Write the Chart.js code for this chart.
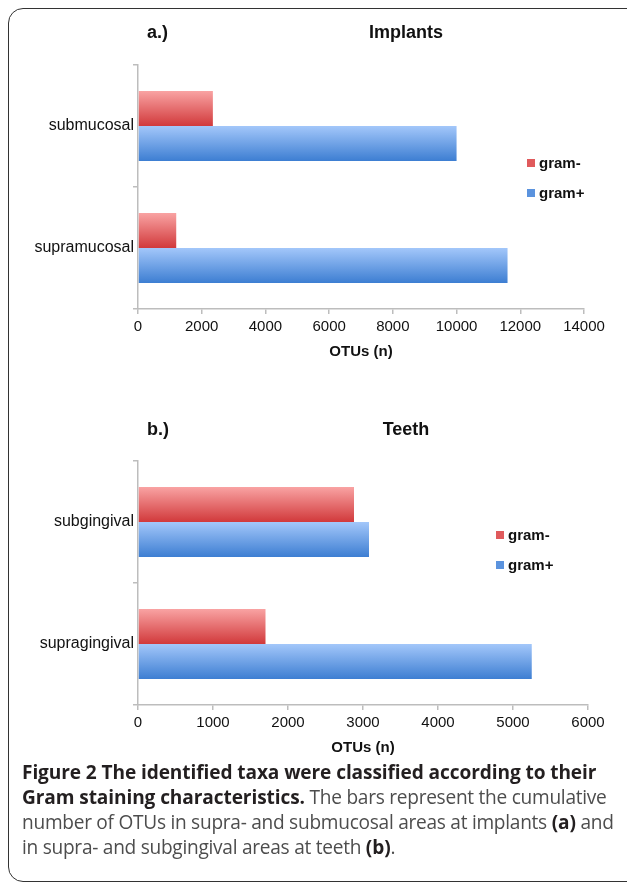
<!DOCTYPE html>
<html>
<head>
<meta charset="utf-8">
<script src="https://cdn.jsdelivr.net/npm/chart.js@4/dist/chart.umd.min.js"></script>
<style>
body { margin: 0; width: 627px; height: 884px; background: #fff; overflow: hidden; position: relative; }
#frame { position: absolute; left: 8px; top: 8px; width: 660px; height: 874px; border: 1.5px solid #333; border-radius: 15px; box-sizing: border-box; }
.wrap { position: absolute; left: 0; width: 627px; }
#wrapA { top: 0; height: 370px; }
#wrapB { top: 380px; height: 380px; }
#caption { position: absolute; left: 22px; top: 760px; font-family: 'Open Sans', sans-serif; font-size: 19.1px; line-height: 25px; color: #4d4d4d; white-space: nowrap; letter-spacing: -0.27px; }
#caption b { color: #231f20; letter-spacing: -0.1px; }
</style>
</head>
<body>
<div id="frame"></div>
<div class="wrap" id="wrapA"><canvas id="chartA"></canvas></div>
<div class="wrap" id="wrapB"><canvas id="chartB"></canvas></div>
<div id="caption">
<b>Figure 2 The identified taxa were classified according to their</b><br>
<b>Gram staining characteristics.</b> The bars represent the cumulative<br>
number of OTUs in supra- and submucosal areas at implants <b>(a)</b> and<br>
in supra- and subgingival areas at teeth <b>(b)</b>.
</div>
<script>
// datos
var seriesNames = ['gram-', 'gram+'];

var sitiosImplantes = ['submucosal', 'supramucosal'];
var gramNegImplantes = [2350, 1200];
var gramPosImplantes = [10000, 11600];
var maxImplantes = 14000;
var pasoImplantes = 2000;

var sitiosDientes = ['subgingival', 'supragingival'];
var gramNegDientes = [2880, 1700];
var gramPosDientes = [3080, 5250];
var maxDientes = 6000;
var pasoDientes = 1000;

var colores = [
    { top: '#f9a3a3', bottom: '#d1393b', legend: '#e05a5c' },
    { top: '#a3c7fa', bottom: '#3d7ed2', legend: '#5b93de' }
];

Chart.defaults.font.family = "'Liberation Sans', Arial, sans-serif";
Chart.defaults.font.size = 15;
Chart.defaults.color = '#111';

var extras = {
    id: 'extras',
    beforeDatasetsDraw: function (chart) {
        var ctx = chart.ctx;
        chart.data.datasets.forEach(function (ds, i) {
            chart.getDatasetMeta(i).data.forEach(function (bar) {
                var y0 = bar.y - bar.height / 2;
                var y1 = bar.y + bar.height / 2;
                var g = ctx.createLinearGradient(0, y0, 0, y1);
                g.addColorStop(0, colores[i].top);
                g.addColorStop(1, colores[i].bottom);
                bar.options.backgroundColor = g;
            });
        });
    },
    afterDraw: function (chart) {
        var o = chart.options.plugins.extras;
        var ctx = chart.ctx;
        ctx.save();
        ctx.fillStyle = '#111';
        ctx.textBaseline = 'middle';
        ctx.font = "bold 18px 'Liberation Sans', Arial, sans-serif";
        ctx.textAlign = 'left';
        ctx.fillText(o.tag, 147, o.titleY);
        ctx.textAlign = 'center';
        ctx.fillText(o.title, 406, o.titleY);
        // leyenda
        ctx.font = "bold 15px 'Liberation Sans', Arial, sans-serif";
        ctx.textAlign = 'left';
        chart.data.datasets.forEach(function (ds, i) {
            var y = o.legendY + i * 30;
            ctx.fillStyle = colores[i].legend;
            ctx.fillRect(o.legendX, y - 4, 8, 8);
            ctx.fillStyle = '#111';
            ctx.fillText(ds.label, o.legendX + 12, y + 1);
        });
        ctx.restore();
    }
};

function crearGrafico(id, sitios, neg, pos, maximo, paso, conf) {
    var ctx = document.getElementById(id).getContext('2d');
    return new Chart(ctx, {
        type: 'bar',
        data: {
            labels: sitios,
            datasets: [
                // funcion para que cada barra tenga sus propias opciones (degradado)
                { label: seriesNames[0], data: neg, backgroundColor: function () { return colores[0].bottom; } },
                { label: seriesNames[1], data: pos, backgroundColor: function () { return colores[1].bottom; } }
            ]
        },
        options: {
            indexAxis: 'y',
            responsive: true,
            maintainAspectRatio: false,
            animation: false,
            categoryPercentage: 0.574,
            barPercentage: 1,
            layout: { padding: { top: conf.top, right: conf.right, left: 0, bottom: 0 } },
            plugins: {
                legend: { display: false },
                tooltip: { enabled: false },
                extras: conf
            },
            scales: {
                x: {
                    min: 0,
                    max: maximo,
                    ticks: { stepSize: paso, padding: 4, color: '#111', callback: function (v) { return String(v); } },
                    grid: { drawOnChartArea: false, drawTicks: true, tickLength: 5, color: '#bdbdbd', lineWidth: 1.5 },
                    border: { color: '#bdbdbd', width: 1.5 },
                    title: { display: true, text: 'OTUs (n)', font: { weight: 'bold', size: 15 }, color: '#111', padding: { top: 0, bottom: conf.titlePad } },
                    afterFit: function (scale) {
                        scale.height = conf.xHeight;
                        scale.paddingLeft = 0;
                        scale.paddingRight = 0;
                    }
                },
                y: {
                    ticks: { padding: -1, color: '#111', font: { size: 16 } },
                    grid: { drawOnChartArea: false, drawTicks: true, tickLength: 5, color: '#bdbdbd', lineWidth: 1.5 },
                    border: { color: '#bdbdbd', width: 1.5 },
                    afterFit: function (scale) {
                        scale.width = 138;
                        scale.paddingTop = 0;
                        scale.paddingBottom = 0;
                    }
                }
            }
        },
        plugins: [extras]
    });
}

crearGrafico('chartA', sitiosImplantes, gramNegImplantes, gramPosImplantes, maxImplantes, pasoImplantes, {
    top: 65, right: 43, xHeight: 61, titlePad: 9,
    tag: 'a.)', title: 'Implants', titleY: 33, legendX: 527, legendY: 163
});

crearGrafico('chartB', sitiosDientes, gramNegDientes, gramPosDientes, maxDientes, pasoDientes, {
    top: 81, right: 39, xHeight: 55, titlePad: 3,
    tag: 'b.)', title: 'Teeth', titleY: 50, legendX: 496, legendY: 155
});
</script>
</body>
</html>
